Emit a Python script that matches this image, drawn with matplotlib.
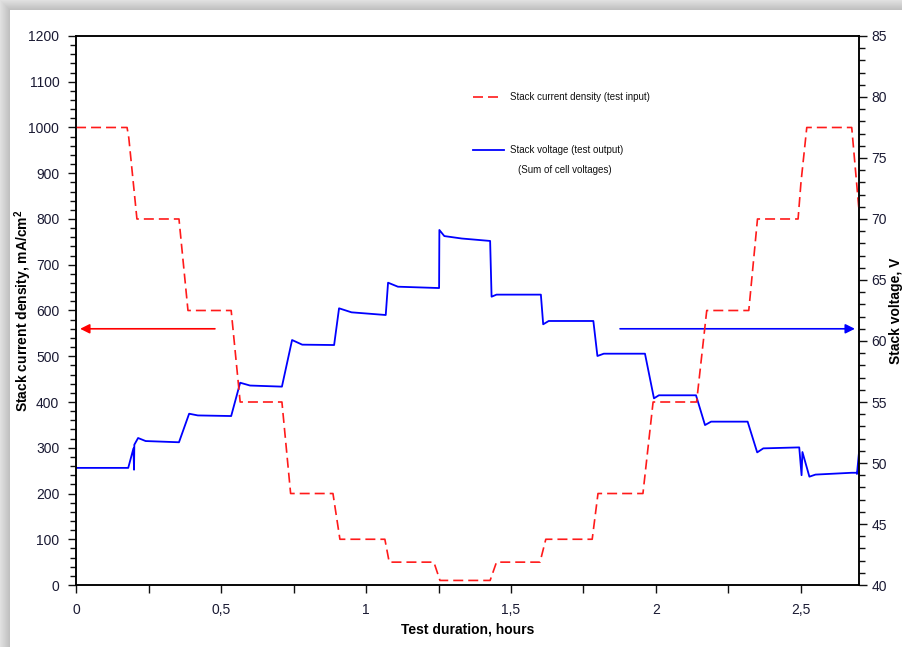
import numpy as np
import matplotlib
matplotlib.use("Agg")
import matplotlib.pyplot as plt
from matplotlib import font_manager
from matplotlib.ticker import MultipleLocator, FuncFormatter

# stack current density, mA/cm2 (test input)
t_cd = [0.0, 0.176, 0.182, 0.21, 0.355, 0.386, 0.535, 0.566, 0.71, 0.74,
        0.886, 0.91, 1.065, 1.08, 1.234, 1.255, 1.428, 1.45, 1.60, 1.62,
        1.78, 1.80, 1.955, 1.99, 2.14, 2.175, 2.32, 2.35, 2.49, 2.50,
        2.52, 2.675, 2.69, 2.70]
cd = [1000, 1000, 977, 800, 800, 600, 600, 400, 400, 200,
      200, 100, 100, 50, 50, 10, 10, 50, 50, 100,
      100, 200, 200, 400, 400, 600, 600, 800, 800, 880,
      1000, 1000, 892, 820]

# stack voltage, V (sum of cell voltages)
t_v = [0.0, 0.18, 0.198, 0.2, 0.201, 0.214, 0.24, 0.355, 0.39, 0.42,
       0.535, 0.566, 0.60, 0.71, 0.745, 0.78, 0.89, 0.907, 0.95, 1.068,
       1.076, 1.11, 1.252, 1.253, 1.27, 1.33, 1.428, 1.433, 1.45, 1.603,
       1.611, 1.63, 1.784, 1.798, 1.82, 1.962, 1.993, 2.01, 2.138, 2.169,
       2.19, 2.316, 2.349, 2.37, 2.494, 2.502, 2.505, 2.529, 2.55, 2.675,
       2.692, 2.693, 2.703]
volt = [49.6, 49.6, 51.2, 49.45, 51.5, 52.05, 51.8, 51.7, 54.04, 53.9,
        53.85, 56.58, 56.35, 56.26, 60.08, 59.7, 59.67, 62.68, 62.35, 62.13,
        64.78, 64.45, 64.34, 69.1, 68.6, 68.4, 68.2, 63.63, 63.8, 63.8,
        61.37, 61.64, 61.64, 58.77, 58.96, 58.96, 55.3, 55.55, 55.55, 53.11,
        53.39, 53.39, 50.87, 51.2, 51.28, 49.0, 50.9, 48.88, 49.05, 49.2,
        49.2, 49.1, 51.6]

names = {f.name for f in font_manager.fontManager.ttflist}
narrow = "Liberation Sans Narrow" if "Liberation Sans Narrow" in names else "Liberation Sans"
plt.rcParams["font.family"] = [narrow, "DejaVu Sans"]
bold_fam = ["Liberation Sans", "DejaVu Sans"]

fig = plt.figure(figsize=(9.02, 6.47), dpi=100)

# soft drop shadow round the white card
bg = fig.add_axes([0, 0, 1, 1], zorder=-10)
W, H = 902, 647
xx, yy = np.meshgrid(np.arange(W), np.arange(H))
d = np.maximum(np.clip(10 - xx, 0, 10), np.clip(10 - yy, 0, 10)) / 10.0
shade = np.where(d > 0, 0.74 + 0.14 * d, 1.0)
bg.imshow(np.dstack([shade] * 3), aspect="auto", extent=[0, 1, 0, 1])
bg.set_axis_off()

ax = fig.add_axes([0.0843, 0.0958, 0.868, 0.8486])
ax2 = ax.twinx()
ax.set_zorder(2)
ax.patch.set_visible(False)

ax.plot(t_cd, cd, color="#ff1a1a", lw=1.2, ls=(0, (6, 3)))
ax2.plot(t_v, volt, color="#0000ff", lw=1.3)

ax.set_xlim(0, 2.7)
ax.set_ylim(0, 1200)
ax2.set_ylim(40, 85)

comma = FuncFormatter(lambda v, p: f"{v:g}".replace(".", ","))
ax.xaxis.set_major_locator(MultipleLocator(0.5))
ax.xaxis.set_minor_locator(MultipleLocator(0.25))
ax.xaxis.set_major_formatter(comma)
ax.yaxis.set_major_locator(MultipleLocator(100))
ax.yaxis.set_minor_locator(MultipleLocator(20))
ax2.yaxis.set_major_locator(MultipleLocator(5))
ax2.yaxis.set_minor_locator(MultipleLocator(1))

for a in (ax, ax2):
    a.tick_params(which="both", direction="out", colors="#111111", labelcolor="#1a1a33",
                  labelsize=10, width=1.0)
    a.tick_params(which="major", length=6)
    a.tick_params(which="minor", length=4)
    for s in a.spines.values():
        s.set_linewidth(1.1)
ax.tick_params(axis="x", which="minor", length=6)
ax.tick_params(axis="x", pad=7)
ax.tick_params(axis="y", pad=6)
ax2.tick_params(axis="y", pad=3)

ax.set_xlabel("Test duration, hours", fontsize=10, fontweight="bold", family=bold_fam)
ax.set_ylabel("Stack current density, mA/cm$^\\mathregular{2}$", fontsize=10,
              fontweight="bold", family=bold_fam)
ax2.set_ylabel("Stack voltage, V", fontsize=10, fontweight="bold", family=bold_fam)
ax.xaxis.set_label_coords(0.5, -0.068)
ax.yaxis.set_label_coords(-0.0537, 0.5)
ax2.yaxis.set_label_coords(1.0385, 0.5)

# which axis each curve belongs to
ax.annotate("", xy=(0.014, 560), xytext=(0.479, 560),
            arrowprops=dict(arrowstyle="-|>", color="#ff0000", lw=1.2, mutation_scale=14,
                            shrinkA=0, shrinkB=0))
ax2.annotate("", xy=(2.686, 61.0), xytext=(1.876, 61.0),
             arrowprops=dict(arrowstyle="-|>", color="#0000ff", lw=1.2, mutation_scale=14,
                             shrinkA=0, shrinkB=0))

# hand-made legend
tr = ax.transAxes
ax.plot([0.507, 0.545], [0.889, 0.889], transform=tr, color="#ff1a1a", lw=1.2, ls=(0, (6, 3)))
ax.text(0.554, 0.889, "Stack current density (test input)", transform=tr,
        fontsize=7, va="center", color="#111111")
ax.plot([0.507, 0.547], [0.792, 0.792], transform=tr, color="#0000ff", lw=1.3)
ax.text(0.554, 0.792, "Stack voltage (test output)", transform=tr,
        fontsize=7, va="center", color="#111111")
ax.text(0.564, 0.756, "(Sum of cell voltages)", transform=tr,
        fontsize=7, va="center", color="#111111")

fig.savefig("out.png", dpi=100)
